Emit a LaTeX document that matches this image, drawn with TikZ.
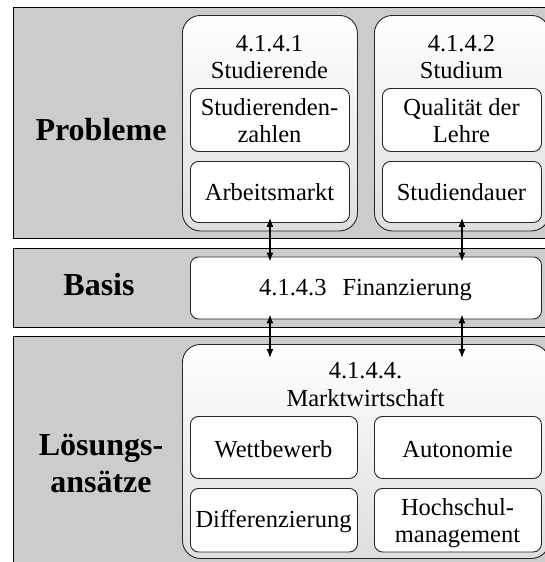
\documentclass[tikz,border=0pt]{standalone}
\usepackage{fontspec}
\setmainfont{Liberation Serif}
\usetikzlibrary{arrows.meta}
\definecolor{bandgray}{gray}{0.80}
\begin{document}
\begin{tikzpicture}[x=1pt,y=-1pt,
  band/.style={draw=black, line width=1.2pt, fill=bandgray, anchor=north west, inner sep=0pt},
  group/.style={draw=black!85, line width=0.9pt, rounded corners=18pt, top color=white, bottom color=black!13, anchor=north west, inner sep=0pt},
  item/.style={draw=black!85, line width=0.9pt, rounded corners=8pt, fill=white, anchor=north west, inner sep=0pt},
  txt/.style={font=\fontsize{24.5}{28}\selectfont, anchor=base, inner sep=0pt},
  head/.style={font=\fontsize{32}{38}\selectfont\bfseries, anchor=base, inner sep=0pt},
  link/.style={{Latex[length=9pt,width=7pt]}-{Latex[length=9pt,width=7pt]}, line width=1.3pt, shorten <=-5pt, shorten >=-5pt}
]
\useasboundingbox (0,0) rectangle (545,562);
\clip (0,0) rectangle (545,562);

% three horizontal bands
\node[band, minimum width=545pt, minimum height=231pt] (bandP) at (13,7) {};
\node[band, minimum width=545pt, minimum height=79pt] (bandB) at (13,248) {};
\node[band, minimum width=545pt, minimum height=240pt] (bandL) at (13,336) {};

% band headings
\node[head] (hP) at (101,140) {Probleme};
\node[head] (hB) at (99,295) {Basis};
\node[head] (hL1) at (101,455) {Lösungs-};
\node[head] (hL2) at (101,492) {ansätze};

% Probleme: two groups
\node[group, minimum width=175pt, minimum height=215.5pt] (g1) at (182,15) {};
\node[group, minimum width=175pt, minimum height=215.5pt] (g2) at (374,15) {};
\node[txt] (g1a) at (269.5,51) {4.1.4.1};
\node[txt] (g1b) at (269.5,78) {Studierende};
\node[txt] (g2a) at (461.5,51) {4.1.4.2};
\node[txt] (g2b) at (461.5,78) {Studium};

\node[item, minimum width=159pt, minimum height=63pt] (sz) at (190,88) {};
\node[item, minimum width=159pt, minimum height=61pt] (arb) at (190,161) {};
\node[item, minimum width=159pt, minimum height=63pt] (ql) at (382,88) {};
\node[item, minimum width=159pt, minimum height=61pt] (sd) at (382,161) {};
\node[txt] (sz1) at (269.5,115.5) {Studierenden-};
\node[txt] (sz2) at (269.5,142.5) {zahlen};
\node[txt] (arbt) at (269.5,200.5) {Arbeitsmarkt};
\node[txt] (ql1) at (461.5,115.5) {Qualität der};
\node[txt] (ql2) at (461.5,142.5) {Lehre};
\node[txt] (sdt) at (461.5,200.5) {Studiendauer};

% Basis
\node[item, minimum width=351pt, minimum height=62pt] (fin) at (190,256.5) {};
\node[txt] (fint) at (365.5,295) {4.1.4.3\hskip 16pt Finanzierung};

% Lösungsansätze
\node[group, minimum width=367pt, minimum height=214pt] (mw) at (182,344) {};
\node[txt] (mwa) at (365.5,378) {4.1.4.4.};
\node[txt] (mwb) at (365.5,406) {Marktwirtschaft};
\node[item, minimum width=167pt, minimum height=62pt] (wb) at (190,416) {};
\node[item, minimum width=167pt, minimum height=62pt] (au) at (374,416) {};
\node[item, minimum width=167pt, minimum height=63.5pt] (df) at (190,488) {};
\node[item, minimum width=167pt, minimum height=63.5pt] (hm) at (374,488) {};
\node[txt] (wbt) at (273.5,457.5) {Wettbewerb};
\node[txt] (aut) at (457.5,457.5) {Autonomie};
\node[txt] (dft) at (273.5,527.5) {Differenzierung};
\node[txt] (hm1) at (457.5,515.5) {Hochschul-};
\node[txt] (hm2) at (457.5,542.5) {management};

% connectors
\draw[link] (arb.south) -- (arb.south |- fin.north);
\draw[link] (sd.south) -- (sd.south |- fin.north);
\draw[link, shorten >=-14pt] (fin.south -| arb.south) -- (mw.north -| arb.south);
\draw[link, shorten >=-14pt] (fin.south -| sd.south) -- (mw.north -| sd.south);
\end{tikzpicture}
\end{document}
